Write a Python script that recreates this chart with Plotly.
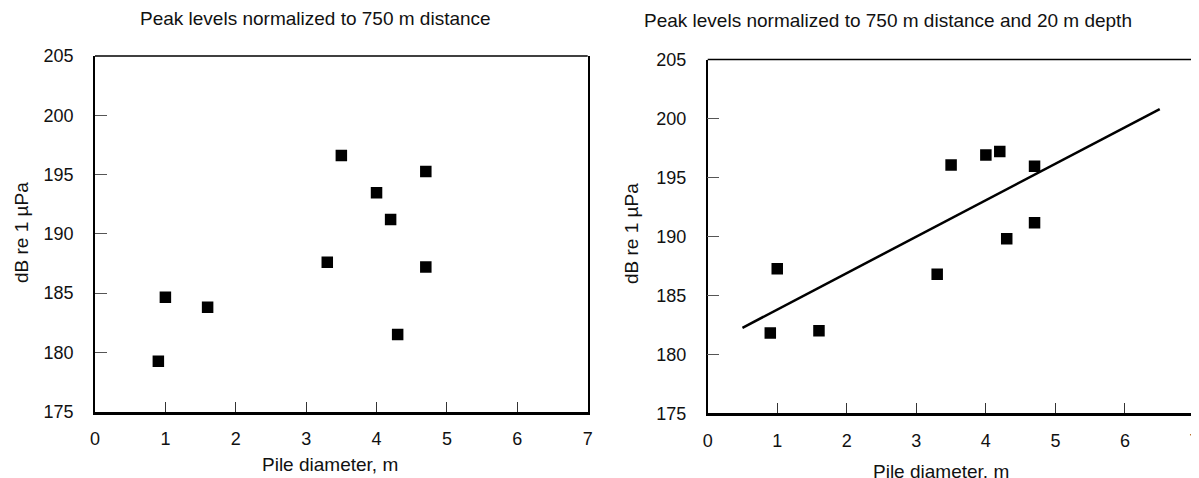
import plotly.graph_objects as go

# ---- data ----
left_diam = [0.9, 1.0, 1.6, 3.3, 3.5, 4.0, 4.2, 4.3, 4.7, 4.7]
left_db = [179.25, 184.65, 183.8, 187.6, 196.6, 193.45, 191.2, 181.5, 195.25, 187.2]

right_diam = [0.9, 1.0, 1.6, 3.3, 3.5, 4.0, 4.2, 4.3, 4.7, 4.7]
right_db = [181.8, 187.25, 182.0, 186.8, 196.05, 196.9, 197.2, 189.8, 195.95, 191.15]

fit_diam = [0.5, 6.5]
fit_db = [182.25, 200.8]

x_ticks = [0, 1, 2, 3, 4, 5, 6, 7]
y_ticks = [175, 180, 185, 190, 195, 200, 205]

title_left = "Peak levels normalized to 750 m distance"
title_right = "Peak levels normalized to 750 m distance and 20 m depth"
x_title = "Pile diameter, m"
y_title = "dB re 1 µPa"

FONT = "Liberation Sans, Arial, sans-serif"
W, H = 1199, 478
OFF = 8  # page body margin of the browser

def px_x(v):
    return (v - OFF) / W

def px_y(v):
    return 1 - (v - OFF) / H

fig = go.Figure()
fig.add_trace(go.Scatter(x=left_diam, y=left_db, mode="markers",
                         marker=dict(symbol="square", size=11.5, color="black"),
                         xaxis="x", yaxis="y", showlegend=False))
fig.add_trace(go.Scatter(x=right_diam, y=right_db, mode="markers",
                         marker=dict(symbol="square", size=11.5, color="black"),
                         xaxis="x2", yaxis="y2", showlegend=False))
fig.add_trace(go.Scatter(x=fit_diam, y=fit_db, mode="lines",
                         line=dict(color="black", width=2.5),
                         xaxis="x2", yaxis="y2", showlegend=False))

def xa(domain, anchor):
    return dict(domain=domain, anchor=anchor, range=[0, 7], tickvals=x_ticks,
                showgrid=False, zeroline=False, showline=True, linecolor="black",
                linewidth=3, mirror=False, ticks="inside", ticklen=10, tickwidth=1,
                tickcolor="#333", ticklabelstandoff=9, automargin=False,
                ticklabeloverflow="allow",
                tickfont=dict(family=FONT, size=18, color="#111"))

def ya(domain, anchor):
    return dict(domain=domain, anchor=anchor, range=[175, 205], tickvals=y_ticks,
                showgrid=False, zeroline=False, showline=True, linecolor="black",
                linewidth=1.5, mirror=True, ticks="inside", ticklen=12, tickwidth=1,
                tickcolor="#555", ticklabelstandoff=16, automargin=False,
                ticklabeloverflow="allow",
                tickfont=dict(family=FONT, size=18, color="#111"))

lx = [px_x(95), px_x(587.7)]
ly = [px_y(411.5), px_y(56)]
rx = [px_x(707.7), px_x(1194.5)]
ry = [px_y(413.3), px_y(59.5)]

fig.update_layout(
    width=W, height=H,
    margin=dict(l=0, r=0, t=0, b=0),
    paper_bgcolor="white", plot_bgcolor="white",
    xaxis=xa(lx, "y"), yaxis=ya(ly, "x"),
    xaxis2=xa(rx, "y2"), yaxis2=ya(ry, "x2"),
    font=dict(family=FONT, size=18, color="#111"),
)

# top border lines of the boxes
for xr, yr in (("x domain", "y domain"), ("x2 domain", "y2 domain")):
    fig.add_shape(type="line", xref=xr, yref=yr, x0=0, x1=1, y0=1, y1=1,
                  line=dict(color="black", width=1.5))

ann = [
    (title_left, 315, 19, 0),
    (title_right, 888, 20.5, 0),
    (x_title, 330, 464, 0),
    (x_title, 941, 471, 0),
    (y_title, 21.5, 232.5, -90),
    (y_title, 631, 234, -90),
]
for text, x, y, ang in ann:
    fig.add_annotation(text=text, x=px_x(x), y=px_y(y), xref="paper", yref="paper",
                       xanchor="center", yanchor="middle", showarrow=False,
                       textangle=ang, font=dict(family=FONT, size=19, color="#111"))

fig.write_html("out.html")
